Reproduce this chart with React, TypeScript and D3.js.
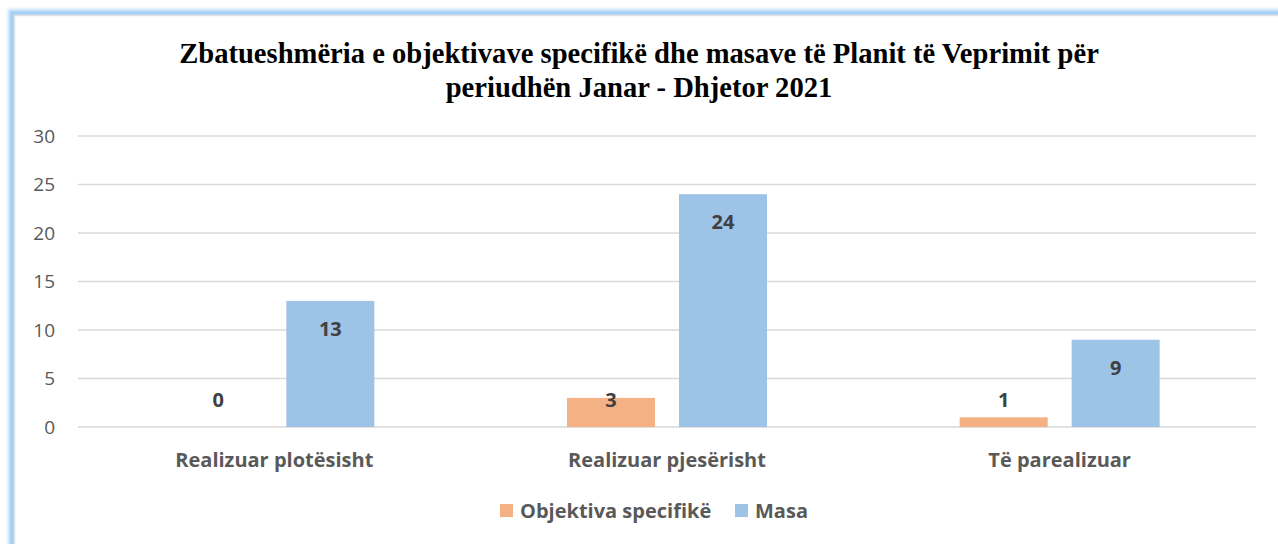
import React from "react";
import * as d3 from "d3";

const categories = ["Realizuar plotësisht", "Realizuar pjesërisht", "Të parealizuar"];
const seriesNames = ["Objektiva specifikë", "Masa"];
const objektivaValues = [0, 3, 1];
const masaValues = [13, 24, 9];
const yTicks = [0, 5, 10, 15, 20, 25, 30];
const titleLines = [
  "Zbatueshmëria e objektivave specifikë dhe masave të Planit të Veprimit për",
  "periudhën Janar - Dhjetor 2021",
];
const colors = ["#F4B183", "#9DC3E6"];

const W = 1278;
const H = 544;
const plotLeft = 78;
const plotRight = 1256;
const plotTop = 136;
const plotBottom = 427;

export default function App() {
  const x0 = d3.scaleBand<string>().domain(categories).range([plotLeft, plotRight]).paddingInner(0).paddingOuter(0);
  const mid = x0.bandwidth() / 2;
  const inner = d3
    .scaleBand<string>()
    .domain(seriesNames)
    .range([mid - 100, mid + 100])
    .paddingInner(0.214)
    .paddingOuter(0);
  const y = d3.scaleLinear().domain([0, 30]).range([plotBottom, plotTop]);
  const series = [objektivaValues, masaValues];
  const font = "'Open Sans', Lato, sans-serif";

  return (
    <svg
      width={W}
      height={H}
      style={{ position: "absolute", left: 0, top: 0, display: "block" }}
    >
      <defs>
        <filter id="glow" x="-5%" y="-5%" width="110%" height="110%">
          <feGaussianBlur stdDeviation="1.6" />
        </filter>
      </defs>
      <rect x={0} y={0} width={W} height={H} fill="#ffffff" />
      <rect x={11} y={12} width={W + 20} height={H + 20} fill="none" stroke="#bcdcf8" strokeWidth={6} filter="url(#glow)" />
      <rect x={12} y={13} width={W + 20} height={H + 20} fill="none" stroke="#a6cff5" strokeWidth={3} />
      <rect x={14} y={15} width={W + 20} height={H + 20} fill="none" stroke="#d0d0d0" strokeWidth={1} />

      {titleLines.map((t, i) => (
        <text
          key={i}
          x={639}
          y={63 + i * 34}
          textAnchor="middle"
          fontFamily="'Liberation Serif', 'Times New Roman', serif"
          fontWeight="bold"
          fontSize={28.6}
          fill="#000"
        >
          {t}
        </text>
      ))}

      {yTicks.map((t) => (
        <g key={t}>
          <line x1={plotLeft} x2={plotRight} y1={y(t)} y2={y(t)} stroke="#d9d9d9" strokeWidth={1.5} />
          <text
            x={55}
            y={y(t)}
            dy="0.35em"
            textAnchor="end"
            fontFamily={font}
            fontSize={19}
            fill="#595959"
          >
            {t}
          </text>
        </g>
      ))}

      {categories.map((c, ci) => (
        <g key={c} transform={`translate(${x0(c)},0)`}>
          {seriesNames.map((s, si) => {
            const v = series[si][ci];
            const bx = inner(s)!;
            const bw = inner.bandwidth();
            const top = y(v);
            const ly = Math.min(top + 28, plotBottom - 27);
            return (
              <g key={s}>
                <rect x={bx} y={top} width={bw} height={plotBottom - top} fill={colors[si]} />
                <text
                  x={bx + bw / 2}
                  y={ly}
                  dy="0.35em"
                  textAnchor="middle"
                  fontFamily={font}
                  fontWeight="bold"
                  fontSize={20}
                  fill="#404040"
                >
                  {v}
                </text>
              </g>
            );
          })}
          <text
            x={mid}
            y={460}
            dy="0.35em"
            textAnchor="middle"
            fontFamily={font}
            fontWeight="bold"
            fontSize={20}
            fill="#595959"
          >
            {c}
          </text>
        </g>
      ))}

      {/* legend */}
      {(() => {
        const items = [
          { name: seriesNames[0], x: 500 },
          { name: seriesNames[1], x: 735 },
        ];
        return items.map((it, i) => (
          <g key={it.name}>
            <rect x={it.x} y={504} width={13} height={13} fill={colors[i]} />
            <text
              x={it.x + 20}
              y={511}
              dy="0.35em"
              fontFamily={font}
              fontWeight="bold"
              fontSize={20}
              fill="#595959"
            >
              {it.name}
            </text>
          </g>
        ));
      })()}
    </svg>
  );
}
